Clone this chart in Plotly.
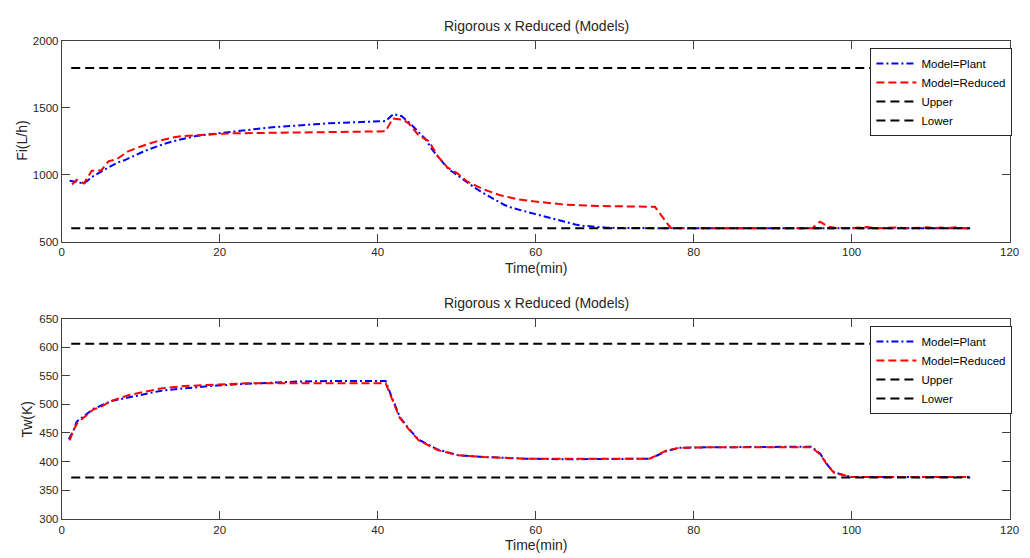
import plotly.graph_objects as go

# ---------------- data ----------------
t_fi_plant = [1, 2, 2.8, 4, 5, 6, 7, 8, 9, 10, 11, 12, 13, 14, 15, 16, 17, 18, 19, 20,
              21, 22, 23, 24, 25, 26, 27, 28, 29, 30, 32, 34, 36, 38, 40, 41, 42, 43, 44,
              45, 46, 47, 48, 49, 50, 51, 52, 53, 54, 55, 56, 57, 58, 59, 60, 61, 62, 63,
              64, 65, 66, 67, 68, 69, 70, 72, 75, 80, 85, 90, 95, 100, 105, 110, 115]
fi_plant = [955, 945, 935, 990, 1025, 1060, 1090, 1110, 1140, 1165, 1190, 1212, 1232, 1250,
            1265, 1278, 1290, 1298, 1305, 1312, 1320, 1328, 1335, 1342, 1347, 1352, 1357,
            1362, 1366, 1370, 1378, 1386, 1390, 1394, 1398, 1402, 1455, 1440, 1390, 1330,
            1270, 1180, 1110, 1040, 1000, 955, 915, 875, 840, 805, 775, 752, 735, 718, 705,
            690, 675, 655, 640, 628, 618, 612, 607, 604, 602, 600, 600, 600, 600, 600, 600,
            600, 600, 600, 600]

t_fi_red = [1.3, 1.9, 2.8, 3.8, 5, 5.9, 7, 8.4, 10, 12, 14, 15, 17, 18.4, 20, 21.3, 25, 30,
            35, 38, 41, 41.9, 43.3, 44, 45.1, 46.5, 47.6, 48.8, 50.1, 51.3, 53.4, 55.5, 57.6,
            59.7, 61.7, 63.8, 68, 72, 75.1, 76.5, 77.1, 80, 85, 90, 95, 96, 97, 98, 100, 102,
            103, 106, 107, 109.6, 110.5, 111.3, 112, 113.2, 114, 115]
fi_red = [927, 962, 935, 1030, 1032, 1100, 1118, 1175, 1212, 1250, 1278, 1288, 1296, 1300,
          1305, 1310, 1313, 1318, 1320, 1322, 1325, 1422, 1410, 1380, 1300, 1250, 1140, 1056,
          1010, 950, 890, 847, 818, 801, 787, 776, 766, 764, 760, 648, 602, 600, 600, 600,
          600, 648, 612, 602, 600, 608, 600, 605, 600, 606, 600, 605, 600, 606, 600, 600]

t_tw_plant = [0.9, 1.5, 1.9, 3, 4, 5, 6.3, 8.4, 10.5, 12.6, 15.5, 19.6, 23.4, 27, 30, 35, 41,
              41.8, 42.8, 43.9, 45.2, 47.6, 50.2, 53.4, 58.6, 63.9, 74.4, 75.2, 76.5, 78.1,
              82.3, 94.9, 96, 97, 97.8, 99.4, 100, 115]
tw_plant = [439, 455, 470, 481, 492, 498, 506, 512, 518, 524, 528, 533, 536, 538, 540, 541,
            541, 512, 478, 458, 438, 421, 411, 408, 405, 404, 405, 409.6, 418, 424, 425, 426,
            414, 393, 381, 375, 373, 373]

t_tw_red = [1.0, 1.5, 2, 3, 4, 5, 6.3, 8.4, 10.5, 12.6, 15.5, 19.6, 23.4, 27, 30, 35, 41,
            41.8, 42.8, 43.9, 45.2, 47.6, 50.2, 53.4, 58.6, 63.9, 74.4, 75.2, 76.5, 78.1,
            82.3, 94.9, 96, 97, 97.8, 99.4, 100, 115]
tw_red = [437, 455, 468, 480, 491, 496, 506, 516, 522, 528, 532, 535, 537, 537, 537, 537, 537,
          510, 476, 457, 437, 420, 411, 408, 405, 405, 405, 410, 419, 424, 425, 425, 413, 392,
          380, 375, 373, 373]

t_limits = [1.2, 115]
fi_upper = [1800, 1800]
fi_lower = [600, 600]
tw_upper = [606, 606]
tw_lower = [372, 372]

legend_names = ["Model=Plant", "Model=Reduced", "Upper", "Lower"]
title_text = "Rigorous x Reduced (Models)"
x_ticks = [0, 20, 40, 60, 80, 100, 120]
fi_ticks = [500, 1000, 1500, 2000]
tw_ticks = [300, 350, 400, 450, 500, 550, 600, 650]

# ---------------- figure ----------------
W, H = 1030, 558
FONT = "Liberation Sans, Arial, Helvetica, sans-serif"
AX = "#404040"

BLUE = dict(color="#0000ff", width=2, dash="7px,3px,2px,3px")
RED = dict(color="#ff0000", width=2, dash="8px,4px")
BLACK = dict(color="#000000", width=2, dash="9px,5px")

fig = go.Figure()

def add_set(tp, yp, tr, yr, up, lo, xa, ya, lg):
    fig.add_trace(go.Scatter(x=tp, y=yp, mode="lines", line=BLUE, name=legend_names[0],
                             xaxis=xa, yaxis=ya, legend=lg))
    fig.add_trace(go.Scatter(x=tr, y=yr, mode="lines", line=RED, name=legend_names[1],
                             xaxis=xa, yaxis=ya, legend=lg))
    fig.add_trace(go.Scatter(x=t_limits, y=up, mode="lines", line=BLACK, name=legend_names[2],
                             xaxis=xa, yaxis=ya, legend=lg))
    fig.add_trace(go.Scatter(x=t_limits, y=lo, mode="lines", line=BLACK, name=legend_names[3],
                             xaxis=xa, yaxis=ya, legend=lg))

add_set(t_fi_plant, fi_plant, t_fi_red, fi_red, fi_upper, fi_lower, "x", "y", "legend")
add_set(t_tw_plant, tw_plant, t_tw_red, tw_red, tw_upper, tw_lower, "x2", "y2", "legend2")

xl, xr = 59.5 / W, 1019.5 / W
top_t, top_b = 36.0, 240.7
bot_t, bot_b = 319.5, 524.0

def py(p):
    return 1 - p / H

axis_common = dict(showline=True, linecolor=AX, linewidth=1, mirror="allticks",
                   ticks="inside", ticklen=8, tickcolor=AX, showgrid=False, zeroline=False,
                   tickfont=dict(family=FONT, size=11.5, color="#262626"))

legend_common = dict(bgcolor="white", bordercolor="#262626", borderwidth=1,
                     font=dict(family=FONT, size=11.5, color="#000"), xanchor="left",
                     yanchor="top", tracegroupgap=0, itemwidth=40)

fig.update_layout(
    width=W, height=H, margin=dict(l=0, r=0, t=0, b=0),
    plot_bgcolor="white", paper_bgcolor="white",
    font=dict(family=FONT, size=12, color="#262626"),
    xaxis=dict(domain=[xl, xr], range=[0, 120], tickvals=x_ticks, anchor="y", **axis_common),
    yaxis=dict(domain=[py(top_b), py(top_t)], range=[500, 2000], tickvals=fi_ticks,
               anchor="x", **axis_common),
    xaxis2=dict(domain=[xl, xr], range=[0, 120], tickvals=x_ticks, anchor="y2", **axis_common),
    yaxis2=dict(domain=[py(bot_b), py(bot_t)], range=[300, 650], tickvals=tw_ticks,
                anchor="x2", **axis_common),
    legend=dict(x=878.5 / W, y=py(43), **legend_common),
    legend2=dict(x=878.5 / W, y=py(327), **legend_common),
    showlegend=True,
)

ann = dict(xref="paper", yref="paper", showarrow=False, font=dict(family=FONT, size=14, color="#262626"))
fig.add_annotation(text=title_text, x=540 / W, y=py(20), xanchor="center", yanchor="middle", **ann)
fig.add_annotation(text=title_text, x=540 / W, y=py(304), xanchor="center", yanchor="middle", **ann)
fig.add_annotation(text="Time(min)", x=539.5 / W, y=py(268), xanchor="center", yanchor="middle", **ann)
fig.add_annotation(text="Time(min)", x=539.5 / W, y=py(551), xanchor="center", yanchor="middle", **ann)
fig.add_annotation(text="Fi(L/h)", x=19 / W, y=py(138), xanchor="center", yanchor="middle",
                   textangle=-90, **ann)
fig.add_annotation(text="Tw(K)", x=24 / W, y=py(422), xanchor="center", yanchor="middle",
                   textangle=-90, **ann)

fig.write_html("out.html",
               post_script="document.body.style.margin='0';document.body.style.overflow='hidden';")
